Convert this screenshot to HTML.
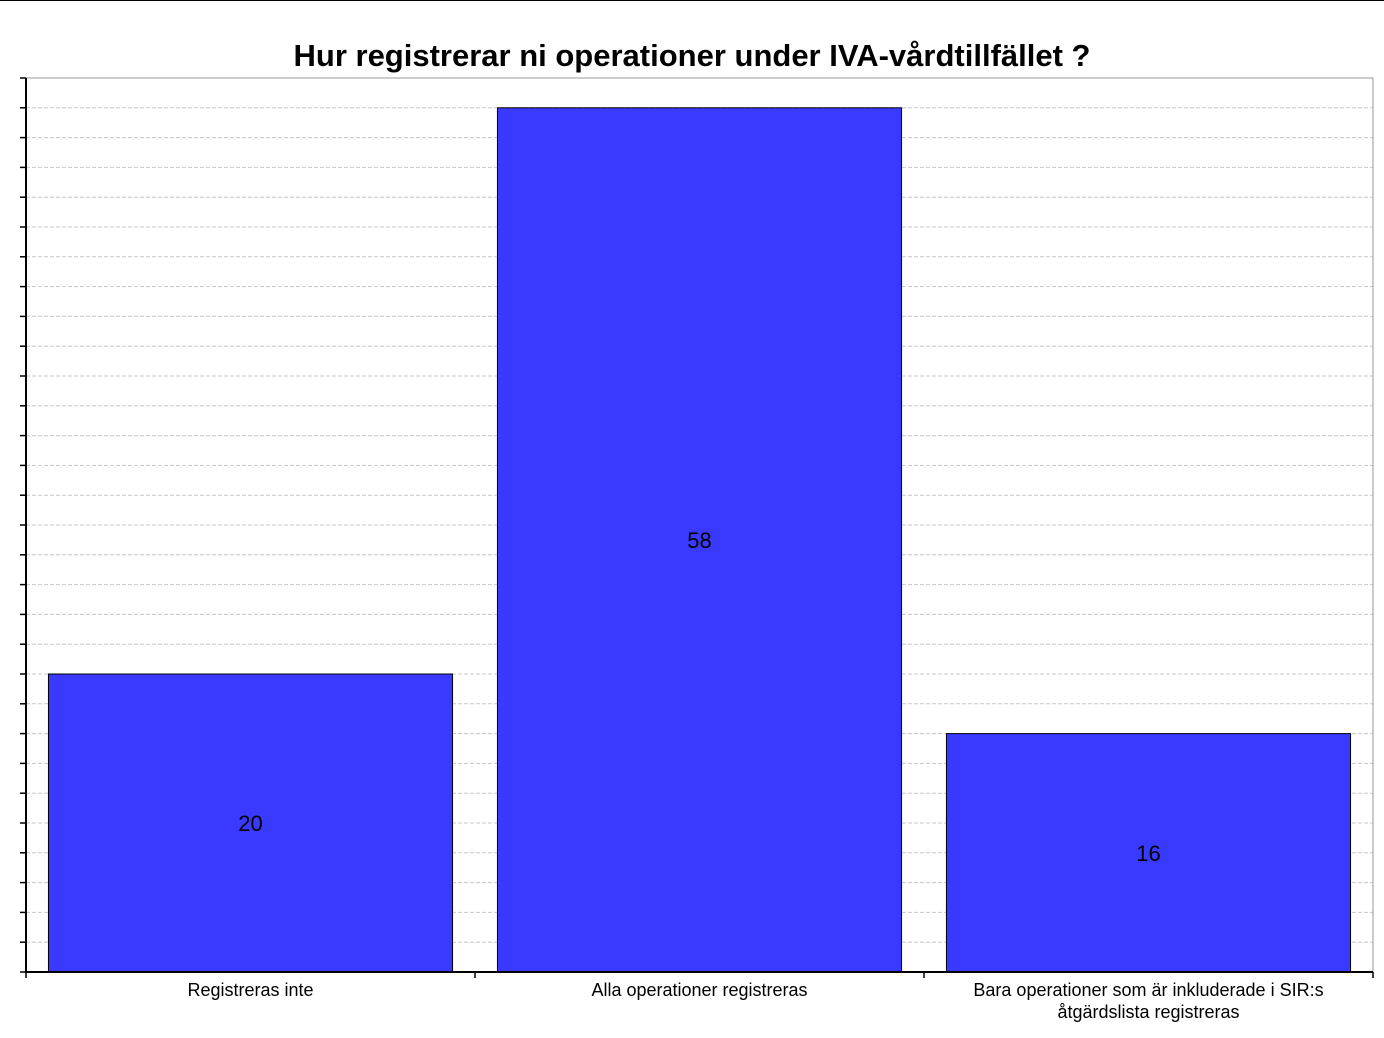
<!DOCTYPE html>
<html><head><meta charset="utf-8"><style>
body{margin:0;background:#fff;}
svg{display:block;font-family:"Liberation Sans",sans-serif;}
</style></head><body>
<svg id="c" width="1384" height="1038">
<line x1="0" y1="0.5" x2="1384" y2="0.5" stroke="#000"/>
<text x="692" y="66" text-anchor="middle" font-size="31" font-weight="bold">Hur registrerar ni operationer under IVA-vårdtillfället ?</text>
<g id="grid"></g><g id="bars"></g><g id="axes"></g>
</svg>
<script>
const categories=[["Registreras inte"],["Alla operationer registreras"],["Bara operationer som är inkluderade i SIR:s","åtgärdslista registreras"]];
const values=[20,58,16];
const yMax=60, yStep=2;
const L=26,R=1373,T=78,B=972;
const NS="http://www.w3.org/2000/svg";
const svg=document.getElementById('c');
const y=v=>B-(v/yMax)*(B-T);
const band=(R-L)/categories.length;
const x=i=>L+band*i;
function mk(t,a,p){const e=document.createElementNS(NS,t);for(const k in a)e.setAttribute(k,a[k]);(p||svg).appendChild(e);return e;}
const g=document.getElementById('grid'),b=document.getElementById('bars'),ax=document.getElementById('axes');
for(let v=yStep;v<yMax;v+=yStep){
 const l=mk('line',{x1:L,x2:R,y1:y(v),y2:y(v),stroke:'#c8c8c8','stroke-dasharray':'4,2'},g);
 
 
}
const fr=mk('rect',{x:L,y:T,width:R-L,height:B-T,fill:'none',stroke:'#999'},g);


values.forEach((v,i)=>{
 const bx=x(i)+band*0.05,bw=band*0.9;
 const r=mk('rect',{x:bx,y:y(v),width:bw,height:B-y(v),fill:'#3a3aff',stroke:'#000'},b);
 
 
 const t=mk('text',{x:x(i)+band/2,y:(y(v)+B)/2+8,'text-anchor':'middle','font-size':22},b);
 t.textContent=v;
 
 
 categories[i].forEach((ln,j)=>{
  const c=mk('text',{x:x(i)+band/2,y:996+j*22,'text-anchor':'middle','font-size':18},ax);
  c.textContent=ln;
  
  
 });
});
for(let v=0;v<=yMax;v+=yStep){
 const t=mk('line',{x1:L-6,x2:L,y1:y(v),y2:y(v),stroke:'#000','stroke-width':1.5},ax);
 
 
}
for(let i=0;i<=categories.length;i++){
 const t=mk('line',{x1:x(i),x2:x(i),y1:B,y2:B+6,stroke:'#000','stroke-width':1.5},ax);
 
 
}
const ya=mk('line',{x1:L,x2:L,y1:T,y2:B,stroke:'#000','stroke-width':2},ax);


const xa=mk('line',{x1:L,x2:R,y1:B,y2:B,stroke:'#000','stroke-width':2},ax);


</script>
</body></html>
